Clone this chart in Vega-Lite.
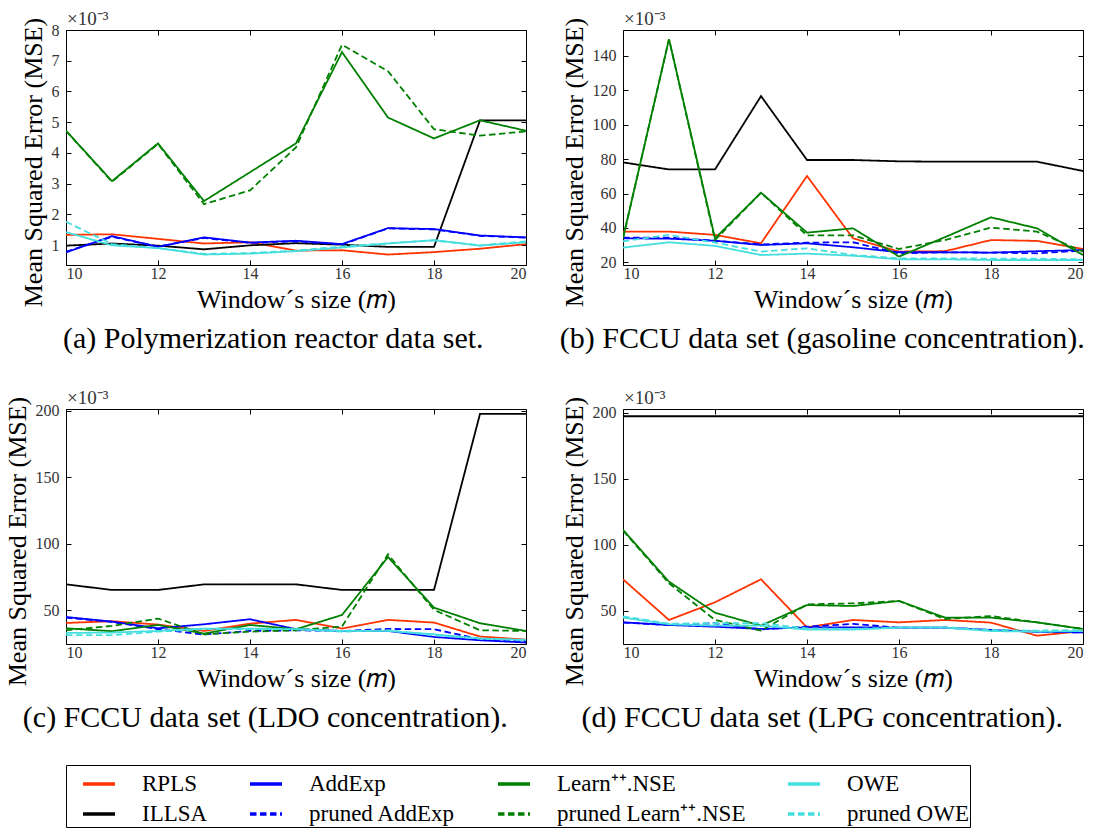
{
  "$schema": "https://vega.github.io/schema/vega-lite/v6.json",
  "padding": {"left": 3, "top": 9, "right": 2, "bottom": 0},
  "config": {
    "font": "Times New Roman",
    "view": {"stroke": "black", "strokeWidth": 1},
    "axis": {"grid": false, "domain": false, "tickColor": "black", "tickSize": -5, "minExtent": 0, "labelPadding": 12, "labelFont": "Times New Roman", "labelFontSize": 16, "labelColor": "#333333", "titleFont": "Times New Roman", "titleFontSize": 26, "titleFontWeight": "normal", "titleColor": "black"},
    "title": {"font": "Times New Roman", "fontSize": 30, "fontWeight": "normal", "orient": "bottom", "offset": 12, "frame": "bounds", "anchor": "middle"},
    "text": {"font": "Times New Roman"},
    "legend": {"orient": "bottom", "direction": "horizontal", "columns": 4, "symbolType": "stroke", "symbolSize": 1024, "symbolStrokeWidth": 3.5, "symbolOffset": 14, "labelFont": "Times New Roman", "labelFontSize": 23, "labelColor": "black", "labelLimit": 400, "strokeColor": "black", "padding": 1, "rowPadding": -3, "columnPadding": 26, "gridAlign": "each", "offset": 31, "labelOffset": 25}
  },
  "datasets": {
    "mse": [
      {"panel":"a","method":"RPLS","m":10,"mse":1.33},{"panel":"a","method":"RPLS","m":11,"mse":1.35},{"panel":"a","method":"RPLS","m":12,"mse":1.20},{"panel":"a","method":"RPLS","m":13,"mse":1.05},{"panel":"a","method":"RPLS","m":14,"mse":1.09},{"panel":"a","method":"RPLS","m":15,"mse":0.82},{"panel":"a","method":"RPLS","m":16,"mse":0.83},{"panel":"a","method":"RPLS","m":17,"mse":0.69},{"panel":"a","method":"RPLS","m":18,"mse":0.77},{"panel":"a","method":"RPLS","m":19,"mse":0.88},{"panel":"a","method":"RPLS","m":20,"mse":1.03},
      {"panel":"a","method":"ILLSA","m":10,"mse":0.98},{"panel":"a","method":"ILLSA","m":11,"mse":1.05},{"panel":"a","method":"ILLSA","m":12,"mse":0.98},{"panel":"a","method":"ILLSA","m":13,"mse":0.86},{"panel":"a","method":"ILLSA","m":14,"mse":0.99},{"panel":"a","method":"ILLSA","m":15,"mse":1.06},{"panel":"a","method":"ILLSA","m":16,"mse":1.01},{"panel":"a","method":"ILLSA","m":17,"mse":0.94},{"panel":"a","method":"ILLSA","m":18,"mse":0.94},{"panel":"a","method":"ILLSA","m":19,"mse":5.06},{"panel":"a","method":"ILLSA","m":20,"mse":5.06},
      {"panel":"a","method":"AddExp","m":10,"mse":0.76},{"panel":"a","method":"AddExp","m":11,"mse":1.29},{"panel":"a","method":"AddExp","m":12,"mse":0.94},{"panel":"a","method":"AddExp","m":13,"mse":1.25},{"panel":"a","method":"AddExp","m":14,"mse":1.08},{"panel":"a","method":"AddExp","m":15,"mse":1.14},{"panel":"a","method":"AddExp","m":16,"mse":1.03},{"panel":"a","method":"AddExp","m":17,"mse":1.55},{"panel":"a","method":"AddExp","m":18,"mse":1.52},{"panel":"a","method":"AddExp","m":19,"mse":1.31},{"panel":"a","method":"AddExp","m":20,"mse":1.25},
      {"panel":"a","method":"pruned AddExp","m":10,"mse":0.78},{"panel":"a","method":"pruned AddExp","m":11,"mse":1.27},{"panel":"a","method":"pruned AddExp","m":12,"mse":0.95},{"panel":"a","method":"pruned AddExp","m":13,"mse":1.23},{"panel":"a","method":"pruned AddExp","m":14,"mse":1.07},{"panel":"a","method":"pruned AddExp","m":15,"mse":1.12},{"panel":"a","method":"pruned AddExp","m":16,"mse":1.02},{"panel":"a","method":"pruned AddExp","m":17,"mse":1.54},{"panel":"a","method":"pruned AddExp","m":18,"mse":1.51},{"panel":"a","method":"pruned AddExp","m":19,"mse":1.30},{"panel":"a","method":"pruned AddExp","m":20,"mse":1.24},
      {"panel":"a","method":"Learn⁺⁺.NSE","m":10,"mse":4.72},{"panel":"a","method":"Learn⁺⁺.NSE","m":11,"mse":3.08},{"panel":"a","method":"Learn⁺⁺.NSE","m":12,"mse":4.31},{"panel":"a","method":"Learn⁺⁺.NSE","m":13,"mse":2.43},{"panel":"a","method":"Learn⁺⁺.NSE","m":14,"mse":3.37},{"panel":"a","method":"Learn⁺⁺.NSE","m":15,"mse":4.31},{"panel":"a","method":"Learn⁺⁺.NSE","m":16,"mse":7.28},{"panel":"a","method":"Learn⁺⁺.NSE","m":17,"mse":5.15},{"panel":"a","method":"Learn⁺⁺.NSE","m":18,"mse":4.47},{"panel":"a","method":"Learn⁺⁺.NSE","m":19,"mse":5.06},{"panel":"a","method":"Learn⁺⁺.NSE","m":20,"mse":4.72},
      {"panel":"a","method":"pruned Learn⁺⁺.NSE","m":10,"mse":4.72},{"panel":"a","method":"pruned Learn⁺⁺.NSE","m":11,"mse":3.06},{"panel":"a","method":"pruned Learn⁺⁺.NSE","m":12,"mse":4.29},{"panel":"a","method":"pruned Learn⁺⁺.NSE","m":13,"mse":2.33},{"panel":"a","method":"pruned Learn⁺⁺.NSE","m":14,"mse":2.78},{"panel":"a","method":"pruned Learn⁺⁺.NSE","m":15,"mse":4.18},{"panel":"a","method":"pruned Learn⁺⁺.NSE","m":16,"mse":7.52},{"panel":"a","method":"pruned Learn⁺⁺.NSE","m":17,"mse":6.66},{"panel":"a","method":"pruned Learn⁺⁺.NSE","m":18,"mse":4.77},{"panel":"a","method":"pruned Learn⁺⁺.NSE","m":19,"mse":4.56},{"panel":"a","method":"pruned Learn⁺⁺.NSE","m":20,"mse":4.70},
      {"panel":"a","method":"OWE","m":10,"mse":1.42},{"panel":"a","method":"OWE","m":11,"mse":0.99},{"panel":"a","method":"OWE","m":12,"mse":0.90},{"panel":"a","method":"OWE","m":13,"mse":0.69},{"panel":"a","method":"OWE","m":14,"mse":0.72},{"panel":"a","method":"OWE","m":15,"mse":0.80},{"panel":"a","method":"OWE","m":16,"mse":0.92},{"panel":"a","method":"OWE","m":17,"mse":1.05},{"panel":"a","method":"OWE","m":18,"mse":1.16},{"panel":"a","method":"OWE","m":19,"mse":0.98},{"panel":"a","method":"OWE","m":20,"mse":1.09},
      {"panel":"a","method":"pruned OWE","m":10,"mse":1.76},{"panel":"a","method":"pruned OWE","m":11,"mse":1.03},{"panel":"a","method":"pruned OWE","m":12,"mse":0.90},{"panel":"a","method":"pruned OWE","m":13,"mse":0.71},{"panel":"a","method":"pruned OWE","m":14,"mse":0.74},{"panel":"a","method":"pruned OWE","m":15,"mse":0.82},{"panel":"a","method":"pruned OWE","m":16,"mse":0.95},{"panel":"a","method":"pruned OWE","m":17,"mse":1.06},{"panel":"a","method":"pruned OWE","m":18,"mse":1.15},{"panel":"a","method":"pruned OWE","m":19,"mse":0.99},{"panel":"a","method":"pruned OWE","m":20,"mse":1.12},

      {"panel":"b","method":"RPLS","m":10,"mse":37.9},{"panel":"b","method":"RPLS","m":11,"mse":37.9},{"panel":"b","method":"RPLS","m":12,"mse":36.0},{"panel":"b","method":"RPLS","m":13,"mse":31.1},{"panel":"b","method":"RPLS","m":14,"mse":70.2},{"panel":"b","method":"RPLS","m":15,"mse":34.0},{"panel":"b","method":"RPLS","m":16,"mse":26.3},{"panel":"b","method":"RPLS","m":17,"mse":26.5},{"panel":"b","method":"RPLS","m":18,"mse":33.0},{"panel":"b","method":"RPLS","m":19,"mse":32.5},{"panel":"b","method":"RPLS","m":20,"mse":27.8},
      {"panel":"b","method":"ILLSA","m":10,"mse":78.1},{"panel":"b","method":"ILLSA","m":11,"mse":74.0},{"panel":"b","method":"ILLSA","m":12,"mse":74.0},{"panel":"b","method":"ILLSA","m":13,"mse":116.6},{"panel":"b","method":"ILLSA","m":14,"mse":79.5},{"panel":"b","method":"ILLSA","m":15,"mse":79.5},{"panel":"b","method":"ILLSA","m":16,"mse":78.7},{"panel":"b","method":"ILLSA","m":17,"mse":78.5},{"panel":"b","method":"ILLSA","m":18,"mse":78.5},{"panel":"b","method":"ILLSA","m":19,"mse":78.5},{"panel":"b","method":"ILLSA","m":20,"mse":73.1},
      {"panel":"b","method":"AddExp","m":10,"mse":34.0},{"panel":"b","method":"AddExp","m":11,"mse":33.8},{"panel":"b","method":"AddExp","m":12,"mse":32.6},{"panel":"b","method":"AddExp","m":13,"mse":30.1},{"panel":"b","method":"AddExp","m":14,"mse":31.1},{"panel":"b","method":"AddExp","m":15,"mse":28.8},{"panel":"b","method":"AddExp","m":16,"mse":25.9},{"panel":"b","method":"AddExp","m":17,"mse":25.9},{"panel":"b","method":"AddExp","m":18,"mse":25.7},{"panel":"b","method":"AddExp","m":19,"mse":26.5},{"panel":"b","method":"AddExp","m":20,"mse":27.2},
      {"panel":"b","method":"pruned AddExp","m":10,"mse":34.4},{"panel":"b","method":"pruned AddExp","m":11,"mse":34.4},{"panel":"b","method":"pruned AddExp","m":12,"mse":32.6},{"panel":"b","method":"pruned AddExp","m":13,"mse":30.5},{"panel":"b","method":"pruned AddExp","m":14,"mse":31.5},{"panel":"b","method":"pruned AddExp","m":15,"mse":31.7},{"panel":"b","method":"pruned AddExp","m":16,"mse":25.3},{"panel":"b","method":"pruned AddExp","m":17,"mse":25.9},{"panel":"b","method":"pruned AddExp","m":18,"mse":25.7},{"panel":"b","method":"pruned AddExp","m":19,"mse":25.3},{"panel":"b","method":"pruned AddExp","m":20,"mse":26.9},
      {"panel":"b","method":"Learn⁺⁺.NSE","m":10,"mse":34.0},{"panel":"b","method":"Learn⁺⁺.NSE","m":11,"mse":149.7},{"panel":"b","method":"Learn⁺⁺.NSE","m":12,"mse":34.0},{"panel":"b","method":"Learn⁺⁺.NSE","m":13,"mse":60.5},{"panel":"b","method":"Learn⁺⁺.NSE","m":14,"mse":37.3},{"panel":"b","method":"Learn⁺⁺.NSE","m":15,"mse":39.8},{"panel":"b","method":"Learn⁺⁺.NSE","m":16,"mse":23.4},{"panel":"b","method":"Learn⁺⁺.NSE","m":17,"mse":34.7},{"panel":"b","method":"Learn⁺⁺.NSE","m":18,"mse":46.2},{"panel":"b","method":"Learn⁺⁺.NSE","m":19,"mse":39.8},{"panel":"b","method":"Learn⁺⁺.NSE","m":20,"mse":24.3},
      {"panel":"b","method":"pruned Learn⁺⁺.NSE","m":10,"mse":34.0},{"panel":"b","method":"pruned Learn⁺⁺.NSE","m":11,"mse":149.7},{"panel":"b","method":"pruned Learn⁺⁺.NSE","m":12,"mse":33.0},{"panel":"b","method":"pruned Learn⁺⁺.NSE","m":13,"mse":60.5},{"panel":"b","method":"pruned Learn⁺⁺.NSE","m":14,"mse":35.7},{"panel":"b","method":"pruned Learn⁺⁺.NSE","m":15,"mse":35.7},{"panel":"b","method":"pruned Learn⁺⁺.NSE","m":16,"mse":27.8},{"panel":"b","method":"pruned Learn⁺⁺.NSE","m":17,"mse":33.0},{"panel":"b","method":"pruned Learn⁺⁺.NSE","m":18,"mse":40.2},{"panel":"b","method":"pruned Learn⁺⁺.NSE","m":19,"mse":37.9},{"panel":"b","method":"pruned Learn⁺⁺.NSE","m":20,"mse":26.3},
      {"panel":"b","method":"OWE","m":10,"mse":28.6},{"panel":"b","method":"OWE","m":11,"mse":31.7},{"panel":"b","method":"OWE","m":12,"mse":29.6},{"panel":"b","method":"OWE","m":13,"mse":24.3},{"panel":"b","method":"OWE","m":14,"mse":25.1},{"panel":"b","method":"OWE","m":15,"mse":23.9},{"panel":"b","method":"OWE","m":16,"mse":21.8},{"panel":"b","method":"OWE","m":17,"mse":21.8},{"panel":"b","method":"OWE","m":18,"mse":21.4},{"panel":"b","method":"OWE","m":19,"mse":21.4},{"panel":"b","method":"OWE","m":20,"mse":21.4},
      {"panel":"b","method":"pruned OWE","m":10,"mse":32.3},{"panel":"b","method":"pruned OWE","m":11,"mse":36.0},{"panel":"b","method":"pruned OWE","m":12,"mse":31.5},{"panel":"b","method":"pruned OWE","m":13,"mse":26.3},{"panel":"b","method":"pruned OWE","m":14,"mse":28.2},{"panel":"b","method":"pruned OWE","m":15,"mse":24.3},{"panel":"b","method":"pruned OWE","m":16,"mse":22.4},{"panel":"b","method":"pruned OWE","m":17,"mse":22.4},{"panel":"b","method":"pruned OWE","m":18,"mse":22.2},{"panel":"b","method":"pruned OWE","m":19,"mse":22.2},{"panel":"b","method":"pruned OWE","m":20,"mse":21.8},

      {"panel":"c","method":"RPLS","m":10,"mse":40.5},{"panel":"c","method":"RPLS","m":11,"mse":41.8},{"panel":"c","method":"RPLS","m":12,"mse":39.3},{"panel":"c","method":"RPLS","m":13,"mse":34.5},{"panel":"c","method":"RPLS","m":14,"mse":40.0},{"panel":"c","method":"RPLS","m":15,"mse":42.8},{"panel":"c","method":"RPLS","m":16,"mse":36.3},{"panel":"c","method":"RPLS","m":17,"mse":42.8},{"panel":"c","method":"RPLS","m":18,"mse":40.8},{"panel":"c","method":"RPLS","m":19,"mse":30.3},{"panel":"c","method":"RPLS","m":20,"mse":28.0},
      {"panel":"c","method":"ILLSA","m":10,"mse":69.5},{"panel":"c","method":"ILLSA","m":11,"mse":65.3},{"panel":"c","method":"ILLSA","m":12,"mse":65.3},{"panel":"c","method":"ILLSA","m":13,"mse":69.5},{"panel":"c","method":"ILLSA","m":14,"mse":69.5},{"panel":"c","method":"ILLSA","m":15,"mse":69.5},{"panel":"c","method":"ILLSA","m":16,"mse":65.3},{"panel":"c","method":"ILLSA","m":17,"mse":65.3},{"panel":"c","method":"ILLSA","m":18,"mse":65.3},{"panel":"c","method":"ILLSA","m":19,"mse":197.5},{"panel":"c","method":"ILLSA","m":20,"mse":197.5},
      {"panel":"c","method":"AddExp","m":10,"mse":45.0},{"panel":"c","method":"AddExp","m":11,"mse":41.5},{"panel":"c","method":"AddExp","m":12,"mse":36.5},{"panel":"c","method":"AddExp","m":13,"mse":39.5},{"panel":"c","method":"AddExp","m":14,"mse":43.3},{"panel":"c","method":"AddExp","m":15,"mse":35.8},{"panel":"c","method":"AddExp","m":16,"mse":34.5},{"panel":"c","method":"AddExp","m":17,"mse":34.5},{"panel":"c","method":"AddExp","m":18,"mse":30.0},{"panel":"c","method":"AddExp","m":19,"mse":27.5},{"panel":"c","method":"AddExp","m":20,"mse":25.8},
      {"panel":"c","method":"pruned AddExp","m":10,"mse":44.5},{"panel":"c","method":"pruned AddExp","m":11,"mse":41.3},{"panel":"c","method":"pruned AddExp","m":12,"mse":35.8},{"panel":"c","method":"pruned AddExp","m":13,"mse":31.8},{"panel":"c","method":"pruned AddExp","m":14,"mse":34.5},{"panel":"c","method":"pruned AddExp","m":15,"mse":35.0},{"panel":"c","method":"pruned AddExp","m":16,"mse":34.5},{"panel":"c","method":"pruned AddExp","m":17,"mse":36.0},{"panel":"c","method":"pruned AddExp","m":18,"mse":35.8},{"panel":"c","method":"pruned AddExp","m":19,"mse":28.3},{"panel":"c","method":"pruned AddExp","m":20,"mse":26.8},
      {"panel":"c","method":"Learn⁺⁺.NSE","m":10,"mse":36.5},{"panel":"c","method":"Learn⁺⁺.NSE","m":11,"mse":34.3},{"panel":"c","method":"Learn⁺⁺.NSE","m":12,"mse":39.0},{"panel":"c","method":"Learn⁺⁺.NSE","m":13,"mse":32.5},{"panel":"c","method":"Learn⁺⁺.NSE","m":14,"mse":39.0},{"panel":"c","method":"Learn⁺⁺.NSE","m":15,"mse":35.8},{"panel":"c","method":"Learn⁺⁺.NSE","m":16,"mse":46.5},{"panel":"c","method":"Learn⁺⁺.NSE","m":17,"mse":90.0},{"panel":"c","method":"Learn⁺⁺.NSE","m":18,"mse":52.0},{"panel":"c","method":"Learn⁺⁺.NSE","m":19,"mse":40.3},{"panel":"c","method":"Learn⁺⁺.NSE","m":20,"mse":34.5},
      {"panel":"c","method":"pruned Learn⁺⁺.NSE","m":10,"mse":35.0},{"panel":"c","method":"pruned Learn⁺⁺.NSE","m":11,"mse":38.3},{"panel":"c","method":"pruned Learn⁺⁺.NSE","m":12,"mse":43.8},{"panel":"c","method":"pruned Learn⁺⁺.NSE","m":13,"mse":32.0},{"panel":"c","method":"pruned Learn⁺⁺.NSE","m":14,"mse":34.0},{"panel":"c","method":"pruned Learn⁺⁺.NSE","m":15,"mse":35.0},{"panel":"c","method":"pruned Learn⁺⁺.NSE","m":16,"mse":37.8},{"panel":"c","method":"pruned Learn⁺⁺.NSE","m":17,"mse":92.0},{"panel":"c","method":"pruned Learn⁺⁺.NSE","m":18,"mse":50.3},{"panel":"c","method":"pruned Learn⁺⁺.NSE","m":19,"mse":35.0},{"panel":"c","method":"pruned Learn⁺⁺.NSE","m":20,"mse":34.5},
      {"panel":"c","method":"OWE","m":10,"mse":33.0},{"panel":"c","method":"OWE","m":11,"mse":33.3},{"panel":"c","method":"OWE","m":12,"mse":34.5},{"panel":"c","method":"OWE","m":13,"mse":36.3},{"panel":"c","method":"OWE","m":14,"mse":36.3},{"panel":"c","method":"OWE","m":15,"mse":35.8},{"panel":"c","method":"OWE","m":16,"mse":34.5},{"panel":"c","method":"OWE","m":17,"mse":34.5},{"panel":"c","method":"OWE","m":18,"mse":32.0},{"panel":"c","method":"OWE","m":19,"mse":28.8},{"panel":"c","method":"OWE","m":20,"mse":27.8},
      {"panel":"c","method":"pruned OWE","m":10,"mse":31.3},{"panel":"c","method":"pruned OWE","m":11,"mse":31.3},{"panel":"c","method":"pruned OWE","m":12,"mse":34.0},{"panel":"c","method":"pruned OWE","m":13,"mse":35.8},{"panel":"c","method":"pruned OWE","m":14,"mse":35.8},{"panel":"c","method":"pruned OWE","m":15,"mse":35.8},{"panel":"c","method":"pruned OWE","m":16,"mse":34.0},{"panel":"c","method":"pruned OWE","m":17,"mse":35.0},{"panel":"c","method":"pruned OWE","m":18,"mse":31.3},{"panel":"c","method":"pruned OWE","m":19,"mse":28.8},{"panel":"c","method":"pruned OWE","m":20,"mse":27.5},

      {"panel":"d","method":"RPLS","m":10,"mse":74.0},{"panel":"d","method":"RPLS","m":11,"mse":43.2},{"panel":"d","method":"RPLS","m":12,"mse":56.6},{"panel":"d","method":"RPLS","m":13,"mse":74.0},{"panel":"d","method":"RPLS","m":14,"mse":37.6},{"panel":"d","method":"RPLS","m":15,"mse":43.2},{"panel":"d","method":"RPLS","m":16,"mse":41.4},{"panel":"d","method":"RPLS","m":17,"mse":43.2},{"panel":"d","method":"RPLS","m":18,"mse":41.2},{"panel":"d","method":"RPLS","m":19,"mse":31.3},{"panel":"d","method":"RPLS","m":20,"mse":34.8},
      {"panel":"d","method":"ILLSA","m":10,"mse":197.5},{"panel":"d","method":"ILLSA","m":11,"mse":197.5},{"panel":"d","method":"ILLSA","m":12,"mse":197.5},{"panel":"d","method":"ILLSA","m":13,"mse":197.5},{"panel":"d","method":"ILLSA","m":14,"mse":197.5},{"panel":"d","method":"ILLSA","m":15,"mse":197.5},{"panel":"d","method":"ILLSA","m":16,"mse":197.5},{"panel":"d","method":"ILLSA","m":17,"mse":197.5},{"panel":"d","method":"ILLSA","m":18,"mse":197.5},{"panel":"d","method":"ILLSA","m":19,"mse":197.5},{"panel":"d","method":"ILLSA","m":20,"mse":197.5},
      {"panel":"d","method":"AddExp","m":10,"mse":41.4},{"panel":"d","method":"AddExp","m":11,"mse":39.4},{"panel":"d","method":"AddExp","m":12,"mse":38.1},{"panel":"d","method":"AddExp","m":13,"mse":36.4},{"panel":"d","method":"AddExp","m":14,"mse":37.6},{"panel":"d","method":"AddExp","m":15,"mse":37.6},{"panel":"d","method":"AddExp","m":16,"mse":37.4},{"panel":"d","method":"AddExp","m":17,"mse":37.4},{"panel":"d","method":"AddExp","m":18,"mse":35.6},{"panel":"d","method":"AddExp","m":19,"mse":34.3},{"panel":"d","method":"AddExp","m":20,"mse":33.8},
      {"panel":"d","method":"pruned AddExp","m":10,"mse":41.2},{"panel":"d","method":"pruned AddExp","m":11,"mse":39.4},{"panel":"d","method":"pruned AddExp","m":12,"mse":40.7},{"panel":"d","method":"pruned AddExp","m":13,"mse":36.1},{"panel":"d","method":"pruned AddExp","m":14,"mse":38.1},{"panel":"d","method":"pruned AddExp","m":15,"mse":40.2},{"panel":"d","method":"pruned AddExp","m":16,"mse":37.4},{"panel":"d","method":"pruned AddExp","m":17,"mse":37.4},{"panel":"d","method":"pruned AddExp","m":18,"mse":35.6},{"panel":"d","method":"pruned AddExp","m":19,"mse":34.3},{"panel":"d","method":"pruned AddExp","m":20,"mse":33.8},
      {"panel":"d","method":"Learn⁺⁺.NSE","m":10,"mse":111.4},{"panel":"d","method":"Learn⁺⁺.NSE","m":11,"mse":72.2},{"panel":"d","method":"Learn⁺⁺.NSE","m":12,"mse":48.7},{"panel":"d","method":"Learn⁺⁺.NSE","m":13,"mse":38.9},{"panel":"d","method":"Learn⁺⁺.NSE","m":14,"mse":54.5},{"panel":"d","method":"Learn⁺⁺.NSE","m":15,"mse":53.8},{"panel":"d","method":"Learn⁺⁺.NSE","m":16,"mse":57.6},{"panel":"d","method":"Learn⁺⁺.NSE","m":17,"mse":45.0},{"panel":"d","method":"Learn⁺⁺.NSE","m":18,"mse":45.0},{"panel":"d","method":"Learn⁺⁺.NSE","m":19,"mse":41.4},{"panel":"d","method":"Learn⁺⁺.NSE","m":20,"mse":36.4},
      {"panel":"d","method":"pruned Learn⁺⁺.NSE","m":10,"mse":111.0},{"panel":"d","method":"pruned Learn⁺⁺.NSE","m":11,"mse":71.0},{"panel":"d","method":"pruned Learn⁺⁺.NSE","m":12,"mse":43.2},{"panel":"d","method":"pruned Learn⁺⁺.NSE","m":13,"mse":35.1},{"panel":"d","method":"pruned Learn⁺⁺.NSE","m":14,"mse":55.0},{"panel":"d","method":"pruned Learn⁺⁺.NSE","m":15,"mse":55.8},{"panel":"d","method":"pruned Learn⁺⁺.NSE","m":16,"mse":57.6},{"panel":"d","method":"pruned Learn⁺⁺.NSE","m":17,"mse":43.9},{"panel":"d","method":"pruned Learn⁺⁺.NSE","m":18,"mse":46.2},{"panel":"d","method":"pruned Learn⁺⁺.NSE","m":19,"mse":41.4},{"panel":"d","method":"pruned Learn⁺⁺.NSE","m":20,"mse":36.4},
      {"panel":"d","method":"OWE","m":10,"mse":45.0},{"panel":"d","method":"OWE","m":11,"mse":39.9},{"panel":"d","method":"OWE","m":12,"mse":38.9},{"panel":"d","method":"OWE","m":13,"mse":38.9},{"panel":"d","method":"OWE","m":14,"mse":35.9},{"panel":"d","method":"OWE","m":15,"mse":35.9},{"panel":"d","method":"OWE","m":16,"mse":37.4},{"panel":"d","method":"OWE","m":17,"mse":37.4},{"panel":"d","method":"OWE","m":18,"mse":34.8},{"panel":"d","method":"OWE","m":19,"mse":34.3},{"panel":"d","method":"OWE","m":20,"mse":34.8},
      {"panel":"d","method":"pruned OWE","m":10,"mse":46.0},{"panel":"d","method":"pruned OWE","m":11,"mse":40.4},{"panel":"d","method":"pruned OWE","m":12,"mse":40.7},{"panel":"d","method":"pruned OWE","m":13,"mse":40.7},{"panel":"d","method":"pruned OWE","m":14,"mse":36.9},{"panel":"d","method":"pruned OWE","m":15,"mse":36.4},{"panel":"d","method":"pruned OWE","m":16,"mse":37.6},{"panel":"d","method":"pruned OWE","m":17,"mse":37.6},{"panel":"d","method":"pruned OWE","m":18,"mse":35.6},{"panel":"d","method":"pruned OWE","m":19,"mse":35.1},{"panel":"d","method":"pruned OWE","m":20,"mse":35.6}
    ]
  },
  "columns": 2,
  "spacing": {"row": 33, "column": 32},
  "concat": [
    {
      "width": 460, "height": 235,
      "title": {"text": "(a) Polymerization reactor data set."},
      "layer": [
        {
          "data": {"name": "mse"},
          "transform": [{"filter": "datum.panel == 'a'"}],
          "mark": {"type": "line", "strokeWidth": 1.8, "clip": true},
          "encoding": {
            "x": {"field": "m", "type": "quantitative", "scale": {"domain": [10, 20], "nice": false}, "axis": {"values": [10, 12, 14, 16, 18, 20], "title": "Window´s size (𝑚)", "titlePadding": 5, "labelPadding": 5}},
            "y": {"field": "mse", "type": "quantitative", "scale": {"domain": [0.35, 8], "nice": false, "zero": false}, "axis": {"values": [1, 2, 3, 4, 5, 6, 7, 8], "title": "Mean Squared Error (MSE)", "titlePadding": 5, "titleY": 132}},
            "color": {"field": "method", "type": "nominal", "scale": {"domain": ["RPLS", "AddExp", "Learn⁺⁺.NSE", "OWE", "ILLSA", "pruned AddExp", "pruned Learn⁺⁺.NSE", "pruned OWE"], "range": ["#ff3300", "#0000ff", "#008000", "#45dede", "#000000", "#0000ff", "#008000", "#45dede"]}, "legend": {"title": null, "encode": {"symbols": {"update": {"strokeDash": {"signal": "indexof(datum.value, 'pruned') === 0 ? [11, 8] : [1, 0]"}}}}}},
            "strokeDash": {"field": "method", "type": "nominal", "scale": {"domain": ["RPLS", "AddExp", "Learn⁺⁺.NSE", "OWE", "ILLSA", "pruned AddExp", "pruned Learn⁺⁺.NSE", "pruned OWE"], "range": [[1, 0], [1, 0], [1, 0], [1, 0], [1, 0], [6.5, 3.5], [6.5, 3.5], [6.5, 3.5]]}, "legend": null}
          }
        },
        {
          "data": {"values": [{"t": "×10⁻³"}]},
          "mark": {"type": "text", "align": "left", "baseline": "bottom", "dy": -1, "dx": 1, "fontSize": 19, "color": "#333333", "font": "Times New Roman"},
          "encoding": {
            "text": {"field": "t"},
            "x": {"datum": 10, "type": "quantitative", "axis": {"orient": "top", "labels": false, "title": null, "labelPadding": 0, "minExtent": 0, "values": [10, 12, 14, 16, 18, 20]}},
            "y": {"datum": 8, "type": "quantitative", "axis": {"orient": "right", "labels": false, "title": null, "labelPadding": 0, "minExtent": 0, "values": [1, 2, 3, 4, 5, 6, 7, 8]}}
          }
        }
      ],
      "resolve": {"axis": {"x": "independent", "y": "independent"}}
    },
    {
      "width": 460, "height": 235,
      "title": {"text": "(b) FCCU data set (gasoline concentration)."},
      "layer": [
        {
          "data": {"name": "mse"},
          "transform": [{"filter": "datum.panel == 'b'"}],
          "mark": {"type": "line", "strokeWidth": 1.8, "clip": true},
          "encoding": {
            "x": {"field": "m", "type": "quantitative", "scale": {"domain": [10, 20], "nice": false}, "axis": {"values": [10, 12, 14, 16, 18, 20], "title": "Window´s size (𝑚)", "titlePadding": 5, "labelPadding": 5}},
            "y": {"field": "mse", "type": "quantitative", "scale": {"domain": [18.5, 155], "nice": false, "zero": false}, "axis": {"values": [20, 40, 60, 80, 100, 120, 140], "title": "Mean Squared Error (MSE)", "titlePadding": 5, "titleY": 132}},
            "color": {"field": "method", "type": "nominal", "legend": {"title": null}},
            "strokeDash": {"field": "method", "type": "nominal", "legend": null}
          }
        },
        {
          "data": {"values": [{"t": "×10⁻³"}]},
          "mark": {"type": "text", "align": "left", "baseline": "bottom", "dy": -1, "dx": 1, "fontSize": 19, "color": "#333333", "font": "Times New Roman"},
          "encoding": {
            "text": {"field": "t"},
            "x": {"datum": 10, "type": "quantitative", "axis": {"orient": "top", "labels": false, "title": null, "labelPadding": 0, "minExtent": 0, "values": [10, 12, 14, 16, 18, 20]}},
            "y": {"datum": 155, "type": "quantitative", "axis": {"orient": "right", "labels": false, "title": null, "labelPadding": 0, "minExtent": 0, "values": [20, 40, 60, 80, 100, 120, 140]}}
          }
        }
      ],
      "resolve": {"axis": {"x": "independent", "y": "independent"}}
    },
    {
      "width": 460, "height": 235,
      "title": {"text": "(c) FCCU data set (LDO concentration)."},
      "layer": [
        {
          "data": {"name": "mse"},
          "transform": [{"filter": "datum.panel == 'c'"}],
          "mark": {"type": "line", "strokeWidth": 1.8, "clip": true},
          "encoding": {
            "x": {"field": "m", "type": "quantitative", "scale": {"domain": [10, 20], "nice": false}, "axis": {"values": [10, 12, 14, 16, 18, 20], "title": "Window´s size (𝑚)", "titlePadding": 5, "labelPadding": 5}},
            "y": {"field": "mse", "type": "quantitative", "scale": {"domain": [24.7, 201.2], "nice": false, "zero": false}, "axis": {"values": [50, 100, 150, 200], "title": "Mean Squared Error (MSE)", "titlePadding": 5, "titleY": 132}},
            "color": {"field": "method", "type": "nominal", "legend": {"title": null}},
            "strokeDash": {"field": "method", "type": "nominal", "legend": null}
          }
        },
        {
          "data": {"values": [{"t": "×10⁻³"}]},
          "mark": {"type": "text", "align": "left", "baseline": "bottom", "dy": -1, "dx": 1, "fontSize": 19, "color": "#333333", "font": "Times New Roman"},
          "encoding": {
            "text": {"field": "t"},
            "x": {"datum": 10, "type": "quantitative", "axis": {"orient": "top", "labels": false, "title": null, "labelPadding": 0, "minExtent": 0, "values": [10, 12, 14, 16, 18, 20]}},
            "y": {"datum": 201.2, "type": "quantitative", "axis": {"orient": "right", "labels": false, "title": null, "labelPadding": 0, "minExtent": 0, "values": [50, 100, 150, 200]}}
          }
        }
      ],
      "resolve": {"axis": {"x": "independent", "y": "independent"}}
    },
    {
      "width": 460, "height": 235,
      "title": {"text": "(d) FCCU data set (LPG concentration)."},
      "layer": [
        {
          "data": {"name": "mse"},
          "transform": [{"filter": "datum.panel == 'd'"}],
          "mark": {"type": "line", "strokeWidth": 1.8, "clip": true},
          "encoding": {
            "x": {"field": "m", "type": "quantitative", "scale": {"domain": [10, 20], "nice": false}, "axis": {"values": [10, 12, 14, 16, 18, 20], "title": "Window´s size (𝑚)", "titlePadding": 5, "labelPadding": 5}},
            "y": {"field": "mse", "type": "quantitative", "scale": {"domain": [25, 203], "nice": false, "zero": false}, "axis": {"values": [50, 100, 150, 200], "title": "Mean Squared Error (MSE)", "titlePadding": 5, "titleY": 132}},
            "color": {"field": "method", "type": "nominal", "legend": {"title": null}},
            "strokeDash": {"field": "method", "type": "nominal", "legend": null}
          }
        },
        {
          "data": {"values": [{"t": "×10⁻³"}]},
          "mark": {"type": "text", "align": "left", "baseline": "bottom", "dy": -1, "dx": 1, "fontSize": 19, "color": "#333333", "font": "Times New Roman"},
          "encoding": {
            "text": {"field": "t"},
            "x": {"datum": 10, "type": "quantitative", "axis": {"orient": "top", "labels": false, "title": null, "labelPadding": 0, "minExtent": 0, "values": [10, 12, 14, 16, 18, 20]}},
            "y": {"datum": 203, "type": "quantitative", "axis": {"orient": "right", "labels": false, "title": null, "labelPadding": 0, "minExtent": 0, "values": [50, 100, 150, 200]}}
          }
        }
      ],
      "resolve": {"axis": {"x": "independent", "y": "independent"}}
    }
  ]
}
